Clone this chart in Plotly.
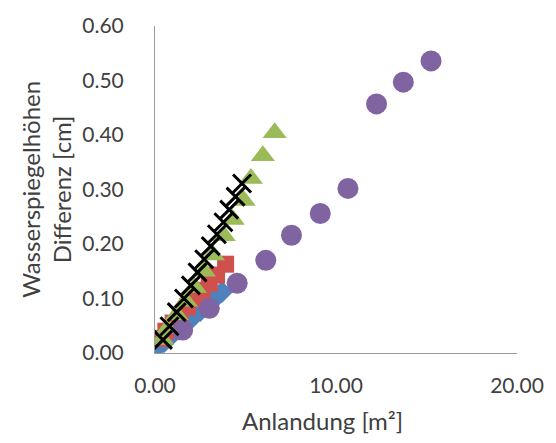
import plotly.graph_objects as go

# Data
blue_x = [0.10, 0.50, 0.90, 1.30, 1.70, 2.10, 2.50, 2.90, 3.30, 3.70]
blue_y = [0.010, 0.020, 0.032, 0.043, 0.054, 0.066, 0.077, 0.089, 0.100, 0.112]

red_x = [0.25, 0.60, 1.00, 1.40, 1.80, 2.20, 2.60, 3.00, 3.40, 3.90]
red_y = [0.027, 0.040, 0.055, 0.070, 0.085, 0.100, 0.115, 0.128, 0.143, 0.163]

green_x = [0.40, 0.70, 1.20, 1.70, 2.20, 2.70, 3.20, 3.80, 4.30, 4.90, 5.30, 5.96, 6.61]
green_y = [0.025, 0.045, 0.070, 0.095, 0.120, 0.150, 0.180, 0.215, 0.245, 0.280, 0.320, 0.362, 0.404]

purple_x = [1.53, 3.00, 4.54, 6.12, 7.54, 9.13, 10.66, 12.24, 13.72, 15.25]
purple_y = [0.042, 0.082, 0.128, 0.170, 0.216, 0.256, 0.302, 0.457, 0.497, 0.536]

black_x = [0.44, 0.80, 1.20, 1.60, 1.98, 2.35, 2.72, 3.08, 3.42, 3.78, 4.10, 4.45, 4.81]
black_y = [0.024, 0.049, 0.075, 0.100, 0.124, 0.148, 0.172, 0.196, 0.218, 0.240, 0.263, 0.287, 0.311]

x_ticks = [0, 10, 20]
x_tick_labels = ["0.00", "10.00", "20.00"]
y_ticks = [0, 0.1, 0.2, 0.3, 0.4, 0.5, 0.6]
y_tick_labels = ["0.00", "0.10", "0.20", "0.30", "0.40", "0.50", "0.60"]

FONT = "Lato"
TXT = "#404040"

fig = go.Figure()
fig.add_trace(go.Scatter(x=blue_x, y=blue_y, mode="markers",
                         marker=dict(symbol="diamond", size=17, color="#4F81BD")))
fig.add_trace(go.Scatter(x=red_x, y=red_y, mode="markers",
                         marker=dict(symbol="square", size=17, color="#D0504D")))
fig.add_trace(go.Scatter(x=green_x, y=green_y, mode="markers",
                         marker=dict(symbol="triangle-up", size=21, color="#9BBB59")))
fig.add_trace(go.Scatter(x=purple_x, y=purple_y, mode="markers",
                         marker=dict(symbol="circle", size=21, color="#8064A2")))
fig.add_trace(go.Scatter(x=black_x, y=black_y, mode="markers",
                         marker=dict(symbol="x-thin", size=18, color="#000000",
                                     line=dict(width=3, color="#000000"))))

fig.update_layout(
    width=556, height=443,
    margin=dict(l=155, r=35, t=25, b=90),
    plot_bgcolor="white", paper_bgcolor="white",
    showlegend=False,
    font=dict(family=FONT, size=20, color=TXT),
    xaxis=dict(range=[0, 20], tickvals=x_ticks, ticktext=x_tick_labels,
               showgrid=False, zeroline=False, showline=True,
               linecolor="#9A9A9A", linewidth=1,
               ticks="outside", ticklen=14, tickcolor="rgba(0,0,0,0)",
               tickfont=dict(family=FONT, size=21, color=TXT)),
    yaxis=dict(range=[0, 0.6], tickvals=y_ticks, ticktext=y_tick_labels,
               showgrid=False, zeroline=False, showline=True,
               linecolor="#9A9A9A", linewidth=1,
               ticks="outside", ticklen=26, tickcolor="rgba(0,0,0,0)",
               tickfont=dict(family=FONT, size=21, color=TXT)),
    annotations=[
        dict(text="Anlandung [m²]", xref="paper", yref="paper",
             x=0.462, y=-0.205, yanchor="middle", xanchor="center",
             showarrow=False, font=dict(family=FONT, size=24, color=TXT)),
        dict(text="Wasserspiegelhöhen<br>Differenz [cm]", xref="paper", yref="paper",
             x=-0.303, y=0.5, xanchor="center", yanchor="middle", textangle=-90,
             showarrow=False, font=dict(family=FONT, size=24, color=TXT)),
    ],
)

fig.write_html("out.html")
